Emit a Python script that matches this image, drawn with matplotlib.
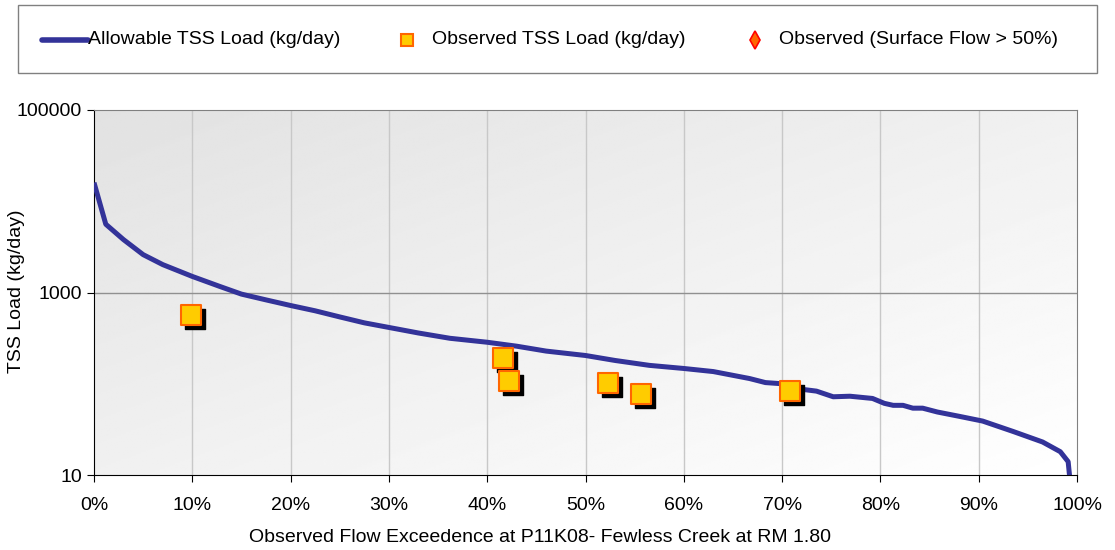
import numpy as np
import matplotlib.pyplot as plt
from matplotlib.lines import Line2D
from matplotlib.ticker import FuncFormatter
from matplotlib.transforms import ScaledTranslation

plt.rcParams['font.family'] = ['Liberation Sans', 'DejaVu Sans']

# allowable load curve (flow exceedence %, kg/day)
curve_x = [0, 1.2, 3, 5, 7, 10, 12.8, 15, 17.5, 20, 22.5, 25, 27.5, 30, 33,
           36.2, 40, 43, 46, 50, 53, 56.5, 60, 63, 66.7, 68.3, 70, 71,
           72, 73.5, 75.2, 76.9, 79.2, 80.4, 81.3, 82.3, 83.3, 84.3, 85.8,
           88, 90.4, 93.5, 96.5, 98.3, 99.1, 99.6]
curve_y = [16000, 5600, 3800, 2600, 2020, 1500, 1165, 960, 830, 720, 630, 540,
           465, 414, 360, 315, 285, 258, 228, 204, 180, 159, 147, 136, 114,
           103, 100, 99, 87, 83, 72, 73, 69, 61, 58, 58, 54, 54, 49,
           44, 39, 30, 23, 18, 14, 4]

# observed loads
obs_x = [9.9, 41.6, 42.2, 52.3, 55.6, 70.8]
obs_y = [560, 193, 106, 103, 78, 83]

W, H = 1115, 550
fig = plt.figure(figsize=(W / 100, H / 100), dpi=100)
ax = fig.add_axes([94 / W, 75 / H, 983 / W, 365 / H])

# gradient background
gx, gy = np.meshgrid(np.linspace(0, 1, 200), np.linspace(0, 1, 200))
grad = 0.885 + 0.115 * np.clip((gx + gy) / 2, 0, 1)
ax.imshow(grad, extent=[0, 1, 0, 1], transform=ax.transAxes, cmap='gray',
          vmin=0, vmax=1, aspect='auto', zorder=0, origin='upper')

ax.set_yscale('log')
ax.set_xlim(0, 100)
ax.set_ylim(10, 100000)
ax.set_yticks([10, 1000, 100000])
ax.yaxis.set_minor_locator(plt.NullLocator())
ax.yaxis.set_major_formatter(FuncFormatter(lambda v, p: f'{int(v)}'))
ax.set_xticks(np.arange(0, 101, 10))
ax.xaxis.set_major_formatter(FuncFormatter(lambda v, p: f'{int(v)}%'))

for v in range(10, 100, 10):
    ax.axvline(v, color='#c8c8c8', lw=1, zorder=1)
ax.axhline(1000, color='#909090', lw=1, zorder=1)

ax.plot(curve_x, curve_y, color='#333399', lw=3.6, zorder=3,
        solid_joinstyle='round', solid_capstyle='butt')

# shadow then squares
shadow = ax.transData + ScaledTranslation(4 / 100, -4 / 100, fig.dpi_scale_trans)
ax.scatter(obs_x, obs_y, marker='s', s=210, color='black', zorder=4,
           transform=shadow)
ax.scatter(obs_x, obs_y, marker='s', s=210, facecolor='#FFCC00',
           edgecolor='#FF6600', linewidth=1.5, zorder=5)

ax.spines['left'].set_color('black')
ax.spines['bottom'].set_color('black')
ax.spines['top'].set_color('#808080')
ax.spines['right'].set_color('#808080')
ax.tick_params(axis='both', labelsize=14, direction='out', length=5,
               color='black')
ax.tick_params(axis='x', pad=11)

fig.text(17 / W, 1 - 291 / H, 'TSS Load (kg/day)', fontsize=14,
         rotation=90, ha='center', va='center')
fig.text(540 / W, 1 - 537 / H,
         'Observed Flow Exceedence at P11K08- Fewless Creek at RM 1.80',
         fontsize=14, ha='center', va='center')

# legend box drawn by hand
ly = 1 - 40 / H
fig.add_artist(Line2D([42 / W, 88 / W], [ly, ly], color='#333399', lw=4,
                      solid_capstyle='round'))
fig.text(88 / W, ly, 'Allowable TSS Load (kg/day)', fontsize=14, va='center')
fig.add_artist(Line2D([407 / W], [ly], marker='s', markersize=9,
                      markerfacecolor='#FFCC00', markeredgecolor='#FF6600',
                      markeredgewidth=1.5))
fig.text(432 / W, ly, 'Observed TSS Load (kg/day)', fontsize=14, va='center')
fig.add_artist(Line2D([755 / W], [ly], marker='d', markersize=9,
                      markerfacecolor='#FF6600', markeredgecolor='#FF0000',
                      markeredgewidth=1.2))
fig.text(779 / W, ly, 'Observed (Surface Flow > 50%)', fontsize=14,
         va='center')

box = plt.Rectangle((18 / W, 1 - 73 / H), 1079 / W, 68 / H,
                    transform=fig.transFigure, fill=False, edgecolor='#808080',
                    lw=1)
fig.patches.append(box)

fig.savefig('out.png', dpi=100)
